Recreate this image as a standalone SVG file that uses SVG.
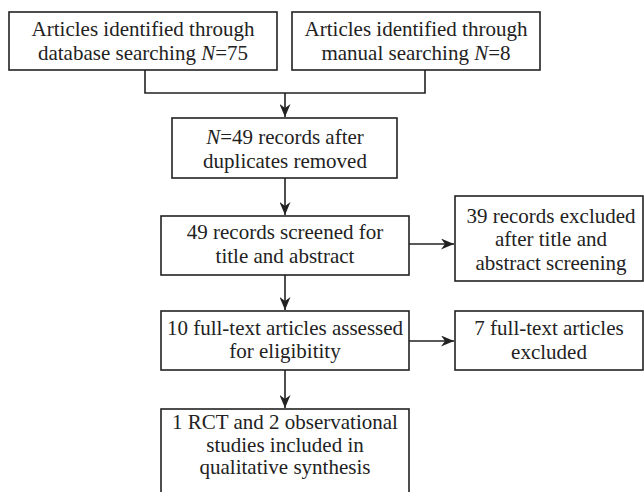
<svg xmlns="http://www.w3.org/2000/svg" width="644" height="492" viewBox="0 0 644 492">
<style>
.box{fill:#fff;stroke:#222;stroke-width:1.6}
.t{font-family:"Liberation Serif","Times New Roman",serif;font-size:21px;fill:#222;text-anchor:middle}
.c{fill:none;stroke:#222;stroke-width:1.6}
</style>
<defs>
<marker id="ah" markerUnits="userSpaceOnUse" markerWidth="14" markerHeight="11" refX="13" refY="5.5" orient="auto">
<path d="M0,0 L13,5.5 L0,11 L4,5.5 Z" fill="#222"/>
</marker>
</defs>
<rect width="644" height="492" fill="#fff"/>
<g id="connectors">
<path class="c" d="M145,70 V93 H425 V70"/>
<path class="c" d="M285,93 V117" marker-end="url(#ah)"/>
<path class="c" d="M285,178 V215" marker-end="url(#ah)"/>
<path class="c" d="M409,244 H454" marker-end="url(#ah)"/>
<path class="c" d="M285,275 V310" marker-end="url(#ah)"/>
<path class="c" d="M409,341 H454" marker-end="url(#ah)"/>
<path class="c" d="M285,370 V408" marker-end="url(#ah)"/>
</g>
<g id="n1">
<rect class="box" x="9" y="12" width="268" height="58"/>
<text class="t" x="143" y="36">Articles identified through</text>
<text class="t" x="143" y="60">database searching <tspan font-style="italic">N</tspan>=75</text>
</g>
<g id="n2">
<rect class="box" x="292" y="12" width="248" height="58"/>
<text class="t" x="416" y="36">Articles identified through</text>
<text class="t" x="416" y="60">manual searching <tspan font-style="italic">N</tspan>=8</text>
</g>
<g id="n3">
<rect class="box" x="172" y="118" width="225" height="60"/>
<text class="t" x="285" y="144"><tspan font-style="italic">N</tspan>=49 records after</text>
<text class="t" x="285" y="168">duplicates removed</text>
</g>
<g id="n4">
<rect class="box" x="161" y="216" width="248" height="59"/>
<text class="t" x="285" y="239">49 records screened for</text>
<text class="t" x="285" y="263">title and abstract</text>
</g>
<g id="n5">
<rect class="box" x="455" y="196" width="188" height="85"/>
<text class="t" x="551" y="223">39 records excluded</text>
<text class="t" x="551" y="246">after title and</text>
<text class="t" x="551" y="270">abstract screening</text>
</g>
<g id="n6">
<rect class="box" x="161" y="311" width="248" height="59"/>
<text class="t" x="285" y="335">10 full-text articles assessed</text>
<text class="t" x="285" y="358">for eligibitity</text>
</g>
<g id="n7">
<rect class="box" x="455" y="311" width="188" height="59"/>
<text class="t" x="549" y="335">7 full-text articles</text>
<text class="t" x="549" y="359">excluded</text>
</g>
<g id="n8">
<rect class="box" x="161" y="409" width="248" height="100"/>
<text class="t" x="285" y="429">1 RCT and 2 observational</text>
<text class="t" x="285" y="452">studies included in</text>
<text class="t" x="285" y="474">qualitative synthesis</text>
</g>
</svg>
